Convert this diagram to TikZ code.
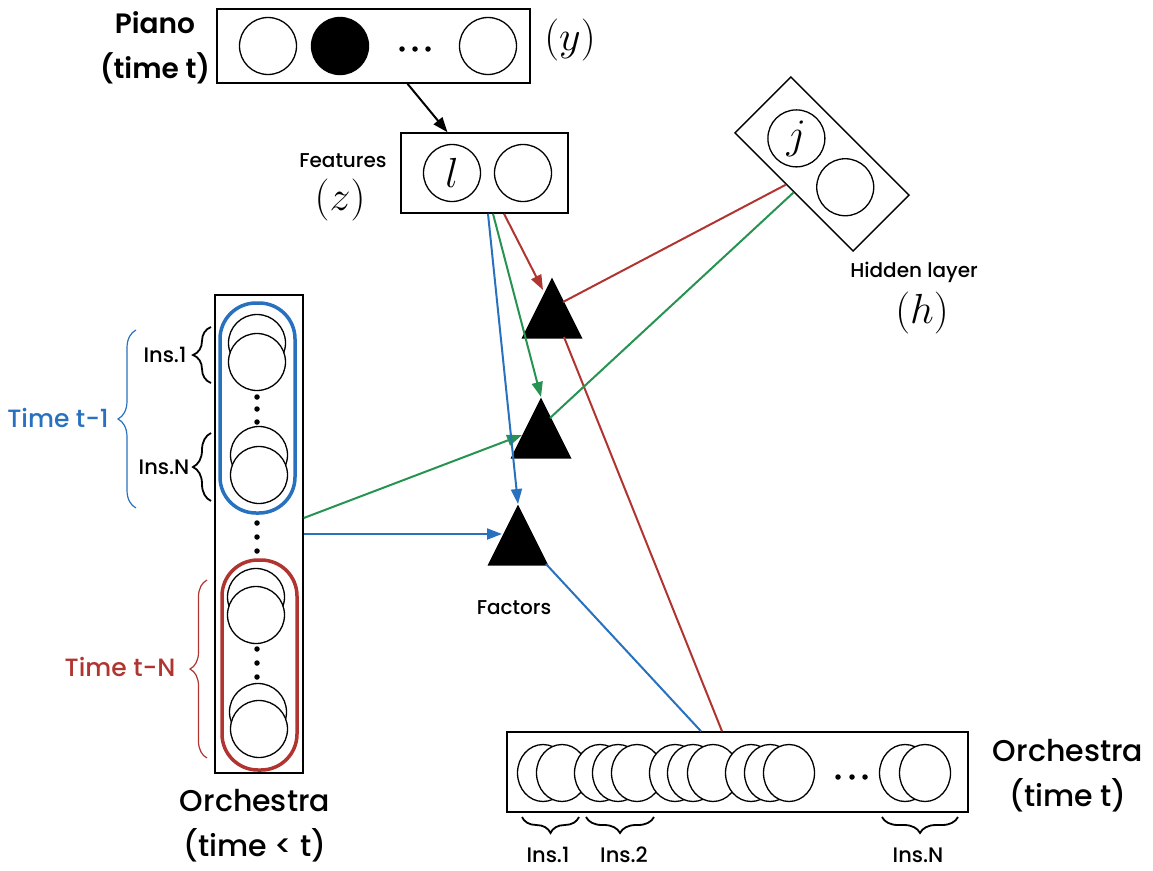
\documentclass[tikz,border=0pt]{standalone}
\usepackage{graphicx}
\usepackage{fontspec}
\setmainfont{Poppins}[UprightFont={* Medium}, BoldFont={* SemiBold}]
\usepackage{tikz}
\usetikzlibrary{
    shapes,
    shapes.geometric,
    positioning,
    calc,
    arrows.meta,
    decorations.pathreplacing
}
\definecolor{tblue}{RGB}{40,113,191}
\definecolor{tred}{RGB}{176,52,48}
\definecolor{tgreen}{RGB}{38,148,80}
\newcommand{\bigmath}[1]{\scalebox{1.69}{\Huge$#1$}}
\tikzset{
  layerbox/.style = {
      draw,
      rectangle,
      line width=1.5pt,
      inner sep=0pt
  },
  neuron/.style = {
      circle,
      draw,
      fill=white,
      line width=1.3pt,
      minimum size=57pt,
      inner sep=0pt
  },
  flat neuron/.style = {
      neuron,
      ellipse,
      minimum width=51pt,
      minimum height=57pt
  },
  factor/.style = {
      isosceles triangle,
      isosceles triangle stretches,
      shape border rotate=90,
      fill=black,
      minimum width=61pt,
      minimum height=61pt,
      inner sep=0pt,
      anchor=apex
  },
  dotmark/.style = {
      circle,
      fill=black,
      minimum size=5.5pt,
      inner sep=0pt
  },
  timegroup/.style = {
      draw,
      rectangle,
      line width=3.5pt,
      rounded corners=36pt,
      minimum width=75pt,
      minimum height=210pt
  },
  conn/.style = {
      line width=2pt
  },
  arr/.style = {
      conn,
      -{Triangle[length=15pt,width=11pt]}
  },
  curly/.style = {
      decorate,
      decoration={brace, amplitude=#1}
  },
  caption/.style = {
      align=center,
      font=\fontsize{30}{45}\selectfont
  },
  smalltxt/.style = {
      font=\fontsize{20}{23}\selectfont
  },
  instxt/.style = {
      font=\fontsize{21}{24}\selectfont
  },
  timetxt/.style = {
      font=\fontsize{25}{28}\selectfont
  }
}

\begin{document}
\begin{tikzpicture}[x=1pt, y=-1pt]
    \useasboundingbox (0,0) rectangle (1153,870);

    % Piano input
    \node[layerbox, minimum width=313pt, minimum height=74pt] (piano) at (373.5,46) {};
    \node[neuron] (y1) at (268,46) {};
    \node[neuron, fill=black] (y2) at (340,46) {};
    \node[neuron] (y3) at (488,46) {};
    \foreach \x in {402,415,428}
        \node[dotmark] at (\x,49) {};
    \node[caption, font=\fontsize{28}{45}\selectfont\bfseries] (pianolab) at (155,48) {Piano\\(time t)};
    \node (ylab) at (570,40) {\bigmath{(y)}};

    % Features
    \node[layerbox, minimum width=167pt, minimum height=80pt] (fz) at (484.5,173) {};
    \node[neuron] (zl) at (452,173) {\bigmath{l}};
    \node[neuron] (z2) at (523,173) {};
    \node[smalltxt] (fzlab) at (343,161) {Features};
    \node (zlab) at (340,200) {\bigmath{(z)}};

    % Hidden layer
    \node[layerbox, rotate=-45, minimum width=167pt, minimum height=79pt] (hid) at (822,164) {};
    \node[neuron] (hj) at ($(hid.center)!0.43!(hid.west)$) {\bigmath{j}};
    \node[neuron] (h2) at ($(hid.center)!0.39!(hid.east)$) {};
    \node[smalltxt] (hidlab) at (914,272) {Hidden layer};
    \node (hlab) at (922,313) {\bigmath{(h)}};

    % Factors
    \node[factor] (t1) at (552,277) {};
    \node[factor] (t2) at (541,397) {};
    \node[factor] (t3) at (518,504) {};
    \node[smalltxt] (faclab) at (514,608) {Factors};

    % Orchestra, past frames
    \node[layerbox, minimum width=88pt, minimum height=478pt] (past) at (259,534) {};
    \node[timegroup, draw=tblue] (tm1) at (257.5,408) {};
    \node[timegroup, draw=tred] (tmn) at (259.5,665) {};
    \foreach \x/\y [count=\i] in {257/343, 257/362, 259/455, 259/475,
                                  256/597, 256/615, 258/712, 259/729}
        \node[neuron] (p\i) at (\x,\y) {};
    \foreach \y in {397,409,422,523,537,551,649,663,677}
        \node[dotmark] at (257,\y) {};
    \draw[curly=18, tblue, line width=1.2pt] (136,508) -- (136,330);
    \draw[curly=18, line width=1.8pt] (211,383) -- (211,327);
    \draw[curly=18, line width=1.8pt] (211,501) -- (211,433);
    \draw[curly=17, tred, line width=1.2pt] (207,758) -- (207,580);
    \node[timetxt, text=tblue] (tm1lab) at (58,418) {Time t-1};
    \node[instxt] (pins1) at (165,355) {Ins.1};
    \node[instxt] (pinsn) at (164,467) {Ins.N};
    \node[timetxt, text=tred] (tmnlab) at (120,667) {Time t-N};
    \node[caption] (pastlab) at (255,826) {Orchestra\\(time < t)};

    % Orchestra, current frame
    \node[layerbox, minimum width=461pt, minimum height=80pt] (now) at (737.5,772) {};
    \foreach \x [count=\i] in {543,562,600,618,637,675,693,713,751,770,789,905,925}
        \node[flat neuron] (c\i) at (\x,773) {};
    \foreach \x in {838,852,865}
        \node[dotmark] at (\x,777) {};
    \draw[curly=16, line width=1.8pt] (579,817) -- (522,817);
    \draw[curly=16, line width=1.8pt] (654,817) -- (586,817);
    \draw[curly=16, line width=1.8pt] (958,817) -- (882,817);
    \node[instxt] (cins1) at (548,855) {Ins.1};
    \node[instxt] (cins2) at (624,855) {Ins.2};
    \node[instxt] (cinsn) at (918,855) {Ins.N};
    \node[caption] (nowlab) at (1068,776) {Orchestra\\(time t)};

    % Edges
    \draw[arr] ($(piano.south)+(34,0)$) -- ($(fz.north)+(-37,0)$);
    % red factor
    \draw[arr, tred] ($(fz.south)+(19.5,0)$) -- ($(t1.apex)+(-9,13)$);
    \draw[conn, tred] ($(hid.south)!0.13!(hid.south west)$) -- ($(t1.apex)+(11,25)$);
    \draw[conn, tred] ($(t1.apex)+(12,60)$) -- ($(now.north)+(-15.5,0)$);
    % green factor
    \draw[arr, tgreen] ($(fz.south)+(8.5,0)$) -- (t2.apex);
    \draw[conn, tgreen] (hid.south) -- ($(t2.apex)+(9,21)$);
    \draw[arr, tgreen] ($(past.east)+(0,-16)$) -- ($(t2.apex)+(-19,38)$);
    % blue factor
    \draw[arr, tblue] ($(fz.south)+(3.5,0)$) -- (t3.apex);
    \draw[arr, tblue] (past.east) -- ($(t3.apex)+(-16,30)$);
    \draw[conn, tblue] ($(t3.apex)+(28,60)$) -- ($(now.north)+(-36.5,0)$);
\end{tikzpicture}
\end{document}
